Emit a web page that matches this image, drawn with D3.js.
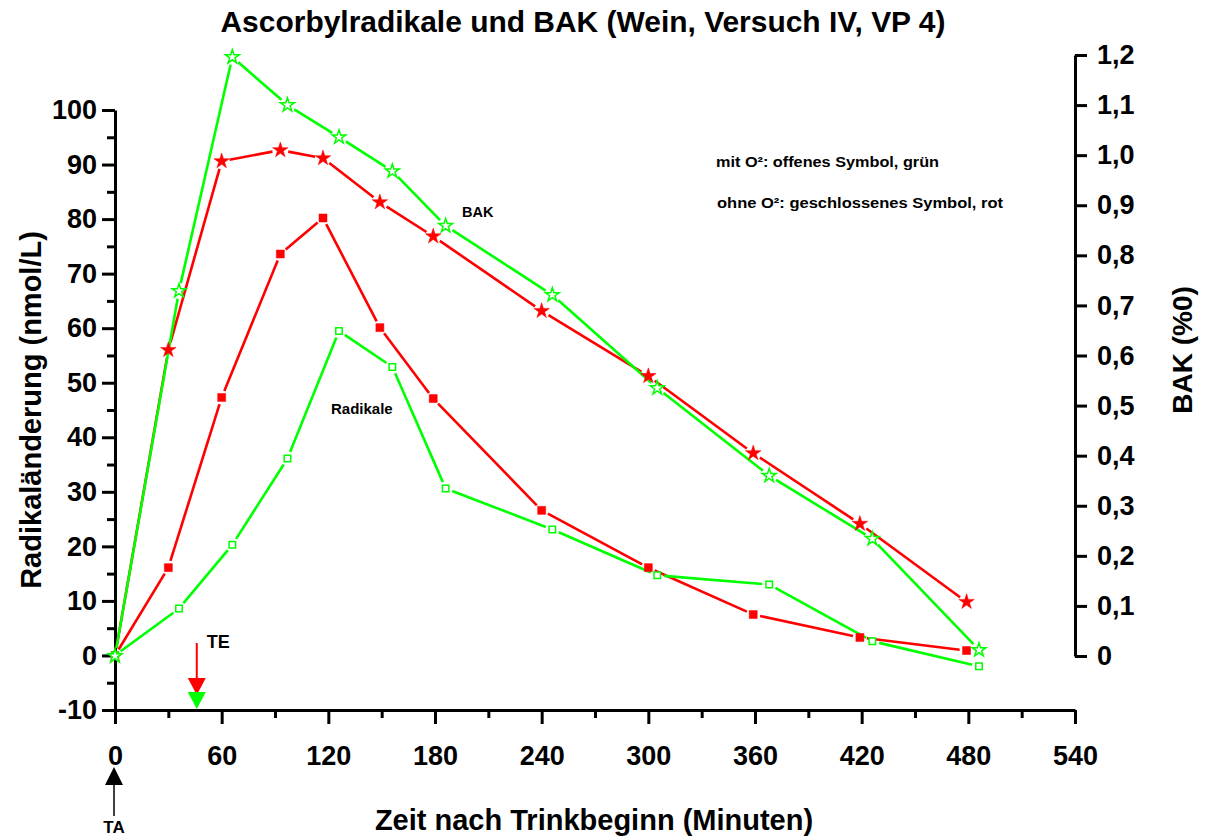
<!DOCTYPE html>
<html>
<head>
<meta charset="utf-8">
<script src="https://cdn.jsdelivr.net/npm/d3@7"></script>
<style>
  html, body { margin: 0; padding: 0; background: #fff; }
  svg { display: block; }
  text { font-family: "Liberation Sans", Arial, sans-serif; font-weight: bold; fill: #000; }
</style>
</head>
<body>
<svg id="chart" width="1206" height="837"></svg>
<script>
// Sampling times (minutes after start of drinking)
const timeOhne = [0, 30, 60, 93, 117, 149, 179, 240, 300, 359, 419, 479];
const timeMit  = [0, 36, 66, 97, 126, 156, 186, 246, 305, 368, 426, 486];

// Blood alcohol (‰), right axis
const bakOhne = [0, 0.611, 0.988, 1.010, 0.994, 0.906, 0.838, 0.689, 0.559, 0.405, 0.264, 0.108];
const bakMit  = [0, 0.729, 1.196, 1.100, 1.036, 0.968, 0.859, 0.721, 0.535, 0.360, 0.234, 0.012];

// Change of ascorbyl radicals (nmol/L), left axis
const radOhne = [0, 16.1, 47.3, 73.6, 80.2, 60.1, 47.1, 26.6, 16.1, 7.5, 3.3, 0.9];
const radMit  = [0, 8.6, 20.3, 36.1, 59.5, 52.9, 30.6, 23.1, 14.7, 13.0, 2.6, -2.0];

// Axis ticks
const xTicks = d3.range(0, 541, 60);
const xMinor = d3.range(30, 541, 60);
const yTicks = d3.range(-10, 101, 10);
const yMinor = d3.range(-5, 100, 10);
const bakTicks = d3.range(0, 13).map(i => i / 10);

// Event markers: start (TA) and end (TE) of drinking
const drinkStart = 0;
const drinkEnd = 46;

const RED = "#ff0000", GREEN = "#00ff00";

const svg = d3.select("#chart");

const x  = d3.scaleLinear().domain([0, 540]).range([115, 1075]);
const yL = d3.scaleLinear().domain([-10, 100]).range([710, 110]);
const yR = d3.scaleLinear().domain([0, 1.2]).range([656, 55]);

// Title
svg.append("text")
  .attr("x", 583).attr("y", 32)
  .attr("text-anchor", "middle")
  .attr("font-size", 30)
  .attr("textLength", 725).attr("lengthAdjust", "spacingAndGlyphs")
  .text("Ascorbylradikale und BAK (Wein, Versuch IV, VP 4)");

// Axes
function styleAxis(g, size) {
  g.selectAll("path.domain").attr("stroke", "#000").attr("stroke-width", 3);
  g.selectAll(".tick line").attr("stroke", "#000").attr("stroke-width", 3);
  g.selectAll(".tick text").attr("font-size", size)
    .attr("font-family", "'Liberation Sans', Arial, sans-serif").attr("font-weight", "bold");
}

const gxMinor = svg.append("g").attr("transform", "translate(0,710)")
  .call(d3.axisBottom(x).tickValues(xMinor).tickSize(8).tickSizeOuter(0).tickFormat(""));
gxMinor.select("path.domain").remove();
styleAxis(gxMinor, 26);

const gx = svg.append("g").attr("transform", "translate(0,710)")
  .call(d3.axisBottom(x).tickValues(xTicks).tickSize(14).tickSizeOuter(0).tickPadding(22));
styleAxis(gx, 27);

const gyMinor = svg.append("g").attr("transform", "translate(115,0)")
  .call(d3.axisLeft(yL).tickValues(yMinor).tickSize(8).tickSizeOuter(0).tickFormat(""));
gyMinor.select("path.domain").remove();
styleAxis(gyMinor, 26);

const gy = svg.append("g").attr("transform", "translate(115,0)")
  .call(d3.axisLeft(yL).tickValues(yTicks).tickSize(13).tickSizeOuter(0).tickPadding(5)
    .tickFormat(d => String(d)));
styleAxis(gy, 27);

const gr = svg.append("g").attr("transform", "translate(1075,0)")
  .call(d3.axisRight(yR).tickValues(bakTicks).tickSize(12).tickSizeOuter(0).tickPadding(10)
    .tickFormat(d => d === 0 ? "0" : d3.format(".1f")(d).replace(".", ",")));
styleAxis(gr, 27);

// Axis titles
svg.append("text")
  .attr("transform", "translate(41,410) rotate(-90)")
  .attr("text-anchor", "middle").attr("font-size", 29)
  .text("Radikaländerung (nmol/L)");

svg.append("text")
  .attr("x", 594).attr("y", 830)
  .attr("text-anchor", "middle").attr("font-size", 29)
  .text("Zeit nach Trinkbeginn (Minuten)");

svg.append("text")
  .attr("transform", "translate(1192,350) rotate(-90)")
  .attr("text-anchor", "middle").attr("font-size", 28)
  .text("BAK (%0)");

// Polylines with small gaps next to each marker
function gappedLine(xs, ys, yScale, color, gap) {
  const pts = xs.map((t, i) => [x(t), yScale(ys[i])]);
  const segs = [];
  for (let i = 0; i < pts.length - 1; i++) {
    const [x0, y0] = pts[i], [x1, y1] = pts[i + 1];
    const len = Math.hypot(x1 - x0, y1 - y0);
    if (len <= 2 * gap) continue;
    const ux = (x1 - x0) / len, uy = (y1 - y0) / len;
    segs.push([x0 + ux * gap, y0 + uy * gap, x1 - ux * gap, y1 - uy * gap]);
  }
  svg.append("g").selectAll("line").data(segs).join("line")
    .attr("x1", d => d[0]).attr("y1", d => d[1])
    .attr("x2", d => d[2]).attr("y2", d => d[3])
    .attr("stroke", color).attr("stroke-width", 2.6);
}

gappedLine(timeOhne, radOhne, yL, RED, 7);
gappedLine(timeOhne, bakOhne, yR, RED, 8);
gappedLine(timeMit, radMit, yL, GREEN, 7);
gappedLine(timeMit, bakMit, yR, GREEN, 8);

function markers(xs, ys, yScale, type, size, filled, color) {
  svg.append("g").selectAll("path").data(xs.map((t, i) => [t, ys[i]])).join("path")
    .attr("transform", d => `translate(${x(d[0])},${yScale(d[1])})`)
    .attr("d", d3.symbol().type(type).size(size)())
    .attr("fill", filled ? color : "#fff")
    .attr("stroke", color)
    .attr("stroke-width", filled ? 0.5 : 1.5);
}

markers(timeOhne, radOhne, yL, d3.symbolSquare, 64, true, RED);
markers(timeOhne, bakOhne, yR, d3.symbolStar, 75, true, RED);
markers(timeMit, radMit, yL, d3.symbolSquare, 42, false, GREEN);
markers(timeMit, bakMit, yR, d3.symbolStar, 60, false, GREEN);

// Curve labels and legend notes
svg.append("text").attr("x", 462).attr("y", 217).attr("font-size", 14.5).text("BAK");
svg.append("text").attr("x", 331).attr("y", 414).attr("font-size", 15).text("Radikale");
svg.append("text").attr("x", 716).attr("y", 167).attr("font-size", 14)
  .attr("textLength", 223).attr("lengthAdjust", "spacingAndGlyphs")
  .text("mit O²: offenes Symbol, grün");
svg.append("text").attr("x", 717).attr("y", 208).attr("font-size", 14)
  .attr("textLength", 286).attr("lengthAdjust", "spacingAndGlyphs")
  .text("ohne O²: geschlossenes Symbol, rot");

// TE: end of drinking (red arrow and green triangle)
const xe = x(drinkEnd);
svg.append("line").attr("x1", xe).attr("x2", xe).attr("y1", 643).attr("y2", 679)
  .attr("stroke", RED).attr("stroke-width", 2);
svg.append("path").attr("d", `M${xe - 9},678 L${xe + 9},678 L${xe},695 Z`).attr("fill", RED);
svg.append("path").attr("d", `M${xe - 9},692 L${xe + 9},692 L${xe},709 Z`).attr("fill", GREEN);
svg.append("text").attr("x", xe + 10).attr("y", 648).attr("font-size", 18).text("TE");

// TA: start of drinking (black arrow below the axis)
const xa = x(drinkStart) - 1;
svg.append("line").attr("x1", xa).attr("x2", xa).attr("y1", 816).attr("y2", 780)
  .attr("stroke", "#000").attr("stroke-width", 1.5);
svg.append("path").attr("d", `M${xa - 9},785 L${xa + 9},785 L${xa},767 Z`).attr("fill", "#000");
svg.append("text").attr("x", xa).attr("y", 833).attr("text-anchor", "middle").attr("font-size", 17).text("TA");
</script>
</body>
</html>
